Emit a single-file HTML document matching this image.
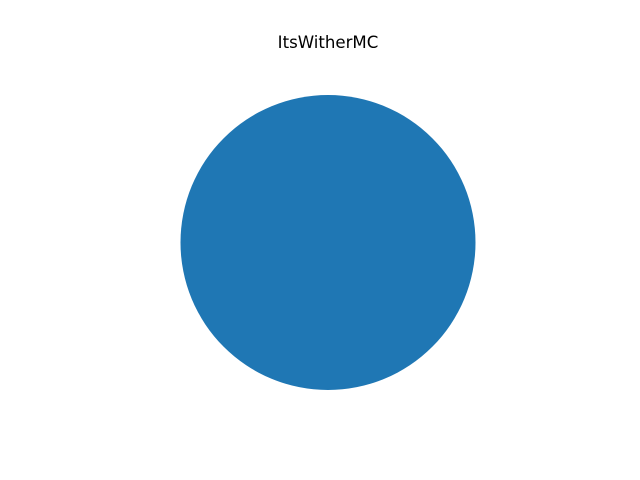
<!DOCTYPE html>
<html><head><meta charset="utf-8"><style>
html,body{margin:0;padding:0;background:#fff;width:640px;height:480px;overflow:hidden}
</style></head><body>
<svg id="chart" width="640" height="480">
<text x="328" y="48" text-anchor="middle" font-family="DejaVu Sans, Liberation Sans, sans-serif" font-size="16.6" fill="#000">ItsWitherMC</text>
</svg>
<script>
const labels = ["ItsWitherMC"];
const values = [1];
const colors = ["#1f77b4","#ff7f0e","#2ca02c","#d62728","#9467bd"];
const svg = document.getElementById('chart');
const cx = 328, cy = 242.5, r = 147.5;
const total = values.reduce((a,b)=>a+b,0);
let ang = 0;
values.forEach((v,i)=>{
  const frac = v/total;
  let el;
  if (frac >= 0.9999) {
    el = document.createElementNS('http://www.w3.org/2000/svg','circle');
    el.setAttribute('cx',cx); el.setAttribute('cy',cy); el.setAttribute('r',r);
  } else {
    const a0 = ang, a1 = ang + frac*2*Math.PI;
    const x0 = cx + r*Math.cos(a0), y0 = cy - r*Math.sin(a0);
    const x1 = cx + r*Math.cos(a1), y1 = cy - r*Math.sin(a1);
    el = document.createElementNS('http://www.w3.org/2000/svg','path');
    el.setAttribute('d',`M${cx},${cy} L${x0},${y0} A${r},${r} 0 ${frac>0.5?1:0} 0 ${x1},${y1} Z`);
  }
  ang += frac*2*Math.PI;
  el.setAttribute('fill', colors[i%colors.length]);
  
  
  svg.appendChild(el);
});
</script>
</body></html>
